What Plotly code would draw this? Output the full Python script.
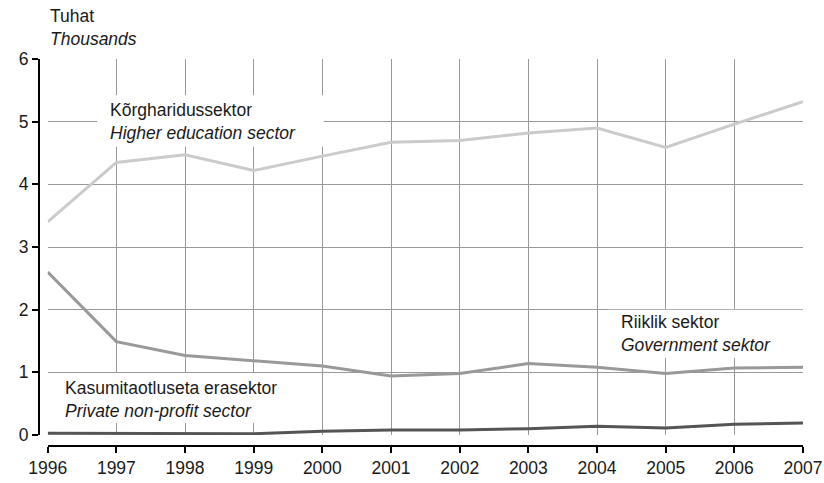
import plotly.graph_objects as go

years = [1996, 1997, 1998, 1999, 2000, 2001, 2002, 2003, 2004, 2005, 2006, 2007]
higher_ed = [3.40, 4.35, 4.47, 4.22, 4.45, 4.67, 4.70, 4.82, 4.90, 4.59, 4.96, 5.32]
government = [2.60, 1.49, 1.27, 1.19, 1.10, 0.94, 0.98, 1.14, 1.08, 0.98, 1.07, 1.08]
private_np = [0.03, 0.03, 0.02, 0.02, 0.06, 0.08, 0.08, 0.10, 0.14, 0.11, 0.17, 0.19]

y_ticks = [0, 1, 2, 3, 4, 5, 6]
series_names = ["Kõrgharidussektor", "Riiklik sektor", "Kasumitaotluseta erasektor"]
series_names_en = ["Higher education sector", "Government sektor", "Private non-profit sector"]
unit_et = "Tuhat"
unit_en = "Thousands"

FONT = "Liberation Sans, Arial, sans-serif"
FS = 17.5

fig = go.Figure()
fig.add_trace(go.Scatter(x=years, y=higher_ed, mode="lines",
                         line=dict(color="#cbcbcb", width=3), name=series_names[0]))
fig.add_trace(go.Scatter(x=years, y=government, mode="lines",
                         line=dict(color="#999999", width=3), name=series_names[1]))
fig.add_trace(go.Scatter(x=years, y=private_np, mode="lines",
                         line=dict(color="#555555", width=3), name=series_names[2]))

# label boxes (white backgrounds over the grid) and labels
boxes = [
    (1996.72, 2000.02, 4.60, 5.42),
    (2004.16, 2007.0, 1.23, 2.00),
    (1996.0, 1999.40, 0.19, 0.99),
]
label_pos = [
    (1996.88, 5.0),
    (2004.32, 1.627),
    (1996.23, 0.574),
]
for (x0, x1, y0, y1) in boxes:
    fig.add_shape(type="rect", xref="x", yref="y", x0=x0, x1=x1, y0=y0, y1=y1,
                  fillcolor="white", line=dict(width=0), layer="between")
for i, (lx, ly) in enumerate(label_pos):
    fig.add_annotation(x=lx, y=ly, xref="x", yref="y", xanchor="left", yanchor="middle",
                       text=f"{series_names[i]}<br><i>{series_names_en[i]}</i>",
                       showarrow=False, align="left",
                       font=dict(family=FONT, size=FS, color="#1a1a1a"))

fig.add_annotation(x=0.0118, y=1.082, xref="paper", yref="paper", xanchor="left",
                   yanchor="middle", text=f"{unit_et}<br><i>{unit_en}</i>",
                   showarrow=False, align="left",
                   font=dict(family=FONT, size=FS, color="#1a1a1a"))

fig.update_layout(
    width=824, height=483,
    margin=dict(l=39, r=20.5, t=58.8, b=37, autoexpand=False),
    paper_bgcolor="white", plot_bgcolor="white",
    showlegend=False,
    font=dict(family=FONT, size=FS, color="#1a1a1a"),
    xaxis=dict(
        domain=[0.0114, 1], anchor="free", position=0, automargin=False,
        range=[1996, 2007], tickmode="array", tickvals=years,
        ticktext=[str(y) for y in years],
        showgrid=True, gridcolor="#999999", gridwidth=1,
        showline=True, linecolor="black", linewidth=2,
        ticks="outside", ticklen=6, tickwidth=2, tickcolor="black",
        zeroline=False,
    ),
    yaxis=dict(
        domain=[0.0284, 1], anchor="free", position=0, automargin=False,
        range=[0, 6], tickmode="array", tickvals=y_ticks,
        showgrid=True, gridcolor="#999999", gridwidth=1,
        showline=True, linecolor="black", linewidth=2,
        ticks="outside", ticklen=6, tickwidth=2, tickcolor="black",
        zeroline=False,
    ),
)

fig.write_html("out.html", config={"displayModeBar": False},
               post_script="document.body.style.margin='0';")
